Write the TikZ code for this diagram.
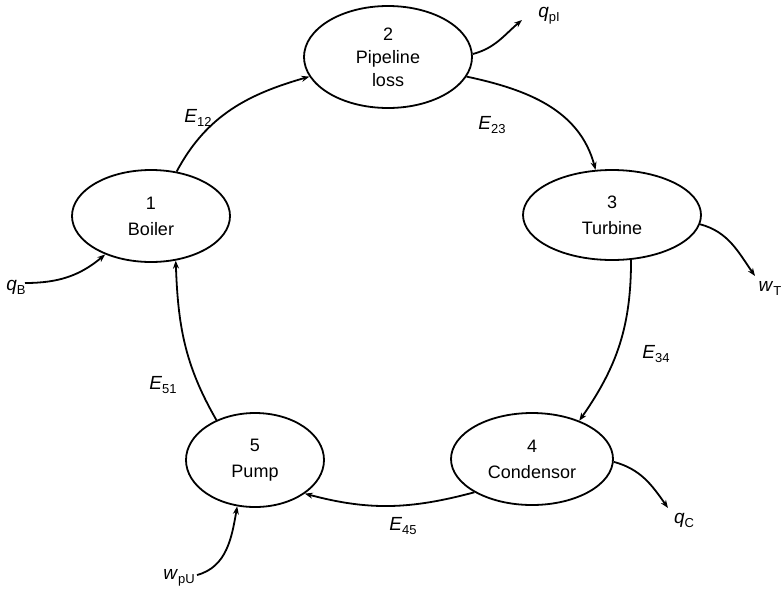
\documentclass[tikz,border=0pt]{standalone}
\usepackage{fontspec}
\setmainfont{Liberation Sans}
\usetikzlibrary{shapes.geometric,arrows.meta}
\newcommand{\symsub}[2]{\textit{#1}\raisebox{-4pt}{\fontsize{13}{13}\selectfont #2}}
\begin{document}
\begin{tikzpicture}[x=1pt,y=-1pt,
  unit/.style={draw,ellipse,line width=1.8pt,inner sep=0pt,align=center,
    font=\fontsize{18}{23}\selectfont},
  flow/.style={line width=1.8pt,-{Stealth[length=8pt,width=6pt]}},
  lbl/.style={font=\fontsize{19}{20}\selectfont,inner sep=1pt}]
\useasboundingbox (0,0) rectangle (783,592);
\node[unit,minimum width=168pt,minimum height=102pt] (n2) at (388,57) {2\\Pipeline\\loss};
\node[unit,minimum width=158pt,minimum height=92pt] (n1) at (151,216) {1\\[3pt]Boiler};
\node[unit,minimum width=178pt,minimum height=90pt] (n3) at (612,215) {3\\[3pt]Turbine};
\node[unit,minimum width=162pt,minimum height=92pt] (n4) at (532,459) {4\\[3pt]Condensor};
\node[unit,minimum width=138pt,minimum height=94pt] (n5) at (255,460) {5\\[3pt]Pump};

\coordinate (qBs) at (25,283);
\coordinate (qpIe) at (522,20);
\coordinate (wTe) at (755,276);
\coordinate (qCe) at (668,508);
\coordinate (wpUs) at (197,575);

\draw[flow] (n1.60) to[out=62,in=196] (n2.194);
\draw[flow] (n2.-14) to[out=-12,in=105] (n3.110);
\draw[flow] (n3.-67) to[out=-90,in=55] (n4.39);
\draw[flow] (n4.210) to[out=195,in=-15] (n5.-34);
\draw[flow] (n5.134) to[out=120,in=-88] (n1.-61);
\draw[flow] (qBs) to[out=0,in=220] (n1.220);
\draw[flow] (n2.2) to[out=15,in=220] (qpIe);
\draw[flow] (n3.-6) to[out=-15,in=125] (wTe);
\draw[flow] (n4.-2) to[out=-15,in=125] (qCe);
\draw[flow] (wpUs) to[out=15,in=-100] (n5.249);

\node[lbl] (l12) at (198,118) {\symsub{E}{12}};
\node[lbl] (l23) at (492,125) {\symsub{E}{23}};
\node[lbl] (l34) at (656,354) {\symsub{E}{34}};
\node[lbl] (l45) at (403,526) {\symsub{E}{45}};
\node[lbl] (l51) at (163,385) {\symsub{E}{51}};
\node[lbl] (lqB) at (16,287) {\symsub{q}{B}};
\node[lbl] (lqp) at (549,16) {\symsub{q}{pI}};
\node[lbl] (lwT) at (770,288) {\symsub{w}{T}};
\node[lbl] (lqC) at (684,520) {\symsub{q}{C}};
\node[lbl] (lwp) at (179,578) {\symsub{w}{pU}};
\end{tikzpicture}
\end{document}
